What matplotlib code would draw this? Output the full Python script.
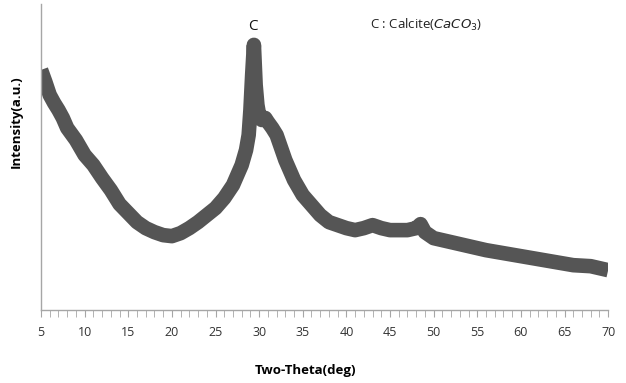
import matplotlib
matplotlib.use("Agg")
import matplotlib.pyplot as plt
from matplotlib.ticker import MultipleLocator

# Two-theta (deg) and intensity (a.u.)
two_theta = [5, 5.5, 6, 6.5, 7, 7.5, 8, 9, 10, 11, 12, 13, 14, 15, 16, 17, 18, 19, 20,
             21, 22, 23, 24, 25, 26, 27, 27.5, 28, 28.5, 28.8, 29.0, 29.2, 29.4, 29.6,
             29.8, 30.0, 30.3, 30.7, 31, 31.5, 32, 33, 34, 35, 36, 37, 38, 39, 40, 41,
             42, 43, 44, 45, 46, 47, 48, 48.5, 49, 50, 52, 54, 56, 58, 60, 62, 64, 66,
             68, 70]
intensity = [240, 228, 215, 207, 200, 192, 182, 170, 155, 145, 132, 120, 106, 97, 88,
             82, 78, 75, 74, 77, 82, 88, 95, 102, 112, 125, 135, 145, 160, 175, 200, 235,
             265, 225, 205, 195, 190, 192, 188, 182, 175, 150, 130, 115, 105, 95, 88,
             85, 82, 80, 82, 85, 82, 80, 80, 80, 82, 86, 78, 72, 68, 64, 60, 57, 54, 51,
             48, 45, 44, 40]

xticks = [5, 10, 15, 20, 25, 30, 35, 40, 45, 50, 55, 60, 65, 70]

plt.rcParams['font.family'] = ['Open Sans', 'DejaVu Sans']

fig = plt.figure(figsize=(6.26, 3.83), dpi=100)
ax = fig.add_axes([0.0655, 0.19, 0.906, 0.80])

ax.plot(two_theta, intensity, color='#555555', lw=10.5, solid_joinstyle='round',
        solid_capstyle='butt')

ax.set_xlim(5, 70)
ax.set_ylim(0, 306)
ax.set_xticks(xticks)
ax.xaxis.set_minor_locator(MultipleLocator(1))
ax.set_yticks([])
for s in ['top', 'right']:
    ax.spines[s].set_visible(False)
for s in ['left', 'bottom']:
    ax.spines[s].set_color('#a6a6a6')
    ax.spines[s].set_linewidth(1)
ax.tick_params(axis='x', which='both', direction='out', length=5, color='#a6a6a6',
               labelsize=9, labelcolor='#333333', pad=6)

ax.set_xlabel('Two-Theta(deg)', fontsize=9.5, fontweight='bold', labelpad=14)
ax.xaxis.set_label_coords(0.466, -0.175)
ax.set_ylabel('Intensity(a.u.)', fontsize=9.5, fontweight='bold')
ax.yaxis.set_label_coords(-0.032, 0.614)

ax.text(29.3, 283, 'C', ha='center', va='center', fontsize=11, color='#111111')
ax.text(42.7, 285, r'C : Calcite($CaCO_3$)', ha='left', va='center', fontsize=9.5,
        color='#222222')

fig.savefig('out.png', dpi=100)
